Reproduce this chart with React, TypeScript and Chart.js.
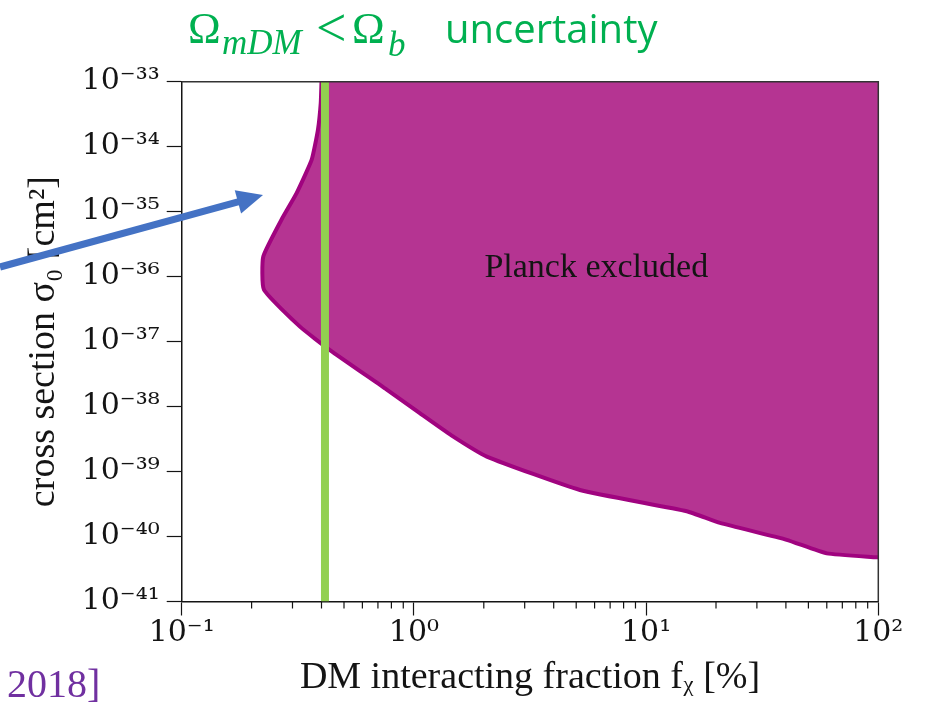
import React, { useEffect, useRef } from 'react';
import { Chart, registerables } from 'chart.js';

Chart.register(...registerables);

// Excluded-region boundary (DM interacting fraction in %, cross section in cm^2)
const boundaryFraction = [0.40, 0.397, 0.386, 0.363, 0.313, 0.273, 0.2246, 0.226, 0.323, 0.435, 0.764, 1.06, 1.45, 2.06, 5.19, 14.96, 20.8, 40.3, 60, 98.4, 100];
const boundarySigma = [1e-33, 4.68e-34, 1.8e-34, 6.3e-35, 1.95e-35, 8.3e-36, 2.04e-36, 6.3e-37, 1.7e-37, 7.4e-38, 1.82e-38, 7.9e-39, 3.6e-39, 1.7e-39, 5.2e-40, 2.45e-40, 1.62e-40, 8.9e-41, 5.5e-41, 4.8e-41, 4.8e-41];

// Omega_mDM < Omega_b uncertainty line
const uncertaintyFraction = 0.414;

const xMajorTicks = [0.1, 1, 10, 100];
const xMinorTicks = [0.2, 0.3, 0.4, 0.5, 0.6, 0.7, 0.8, 0.9, 2, 3, 4, 5, 6, 7, 8, 9, 20, 30, 40, 50, 60, 70, 80, 90];
const xTickLabels = ['10⁻¹', '10⁰', '10¹', '10²'];
const yTicks = [1e-41, 1e-40, 1e-39, 1e-38, 1e-37, 1e-36, 1e-35, 1e-34, 1e-33];
const yTickLabels = ['10⁻⁴¹', '10⁻⁴⁰', '10⁻³⁹', '10⁻³⁸', '10⁻³⁷', '10⁻³⁶', '10⁻³⁵', '10⁻³⁴', '10⁻³³'];

const regionLabel = 'Planck excluded';
const regionLabelX = 6.1;
const regionLabelY = 1e-36;

const SERIF = '"Liberation Serif", "Times New Roman", serif';
const TICK_FONT = '"DejaVu Serif", serif';
const INK = '#141414';

function findIndex(list: number[], v: number) {
  return list.findIndex((t) => Math.abs(t - v) / t < 1e-6);
}

export default function App() {
  const ref = useRef<HTMLCanvasElement | null>(null);

  useEffect(() => {
    const canvas = ref.current;
    if (!canvas) return;

    const boundary = boundaryFraction.map((x, i) => ({ x, y: boundarySigma[i] }));
    const region = [...boundary, { x: 100, y: 1e-33 }];

    const overlay = {
      id: 'overlay',
      afterDraw(chart: any) {
        const ctx = chart.ctx as CanvasRenderingContext2D;
        const area = chart.chartArea;
        const xs = chart.scales.x;
        const ys = chart.scales.y;
        ctx.save();

        // top and right frame
        ctx.strokeStyle = '#333';
        ctx.lineWidth = 1.5;
        ctx.beginPath();
        ctx.moveTo(area.left, area.top);
        ctx.lineTo(area.right, area.top);
        ctx.lineTo(area.right, area.bottom);
        ctx.stroke();

        // minor ticks on x axis
        ctx.strokeStyle = INK;
        ctx.lineWidth = 1.2;
        for (const v of xMinorTicks) {
          const px = xs.getPixelForValue(v);
          ctx.beginPath();
          ctx.moveTo(px, area.bottom);
          ctx.lineTo(px, area.bottom + 7);
          ctx.stroke();
        }

        // region label
        ctx.fillStyle = INK;
        ctx.font = `34px ${SERIF}`;
        ctx.textAlign = 'center';
        ctx.textBaseline = 'alphabetic';
        ctx.fillText(regionLabel, xs.getPixelForValue(regionLabelX), ys.getPixelForValue(regionLabelY));

        // title
        ctx.textAlign = 'left';
        ctx.fillStyle = '#00B050';
        ctx.font = `44px ${SERIF}`;
        ctx.fillText('Ω', 188, 43);
        ctx.font = `italic 35px ${SERIF}`;
        ctx.fillText('mDM', 222, 54);
        ctx.font = `54px ${SERIF}`;
        ctx.fillText('<', 316, 46);
        ctx.font = `44px ${SERIF}`;
        ctx.fillText('Ω', 352, 43);
        ctx.font = `italic 35px ${SERIF}`;
        ctx.fillText('b', 388, 56);
        ctx.font = `40px "Open Sans", sans-serif`;
        ctx.fillText('uncertainty', 445, 43);

        // citation fragment
        ctx.fillStyle = '#7030A0';
        ctx.font = `40px ${SERIF}`;
        ctx.fillText('2018]', 7, 697);

        // arrow
        const x0 = 0, y0 = 267, x1 = 263, y1 = 195;
        const ang = Math.atan2(y1 - y0, x1 - x0);
        const headLen = 26, headW = 12;
        const bx = x1 - headLen * Math.cos(ang);
        const by = y1 - headLen * Math.sin(ang);
        ctx.strokeStyle = '#4472C4';
        ctx.fillStyle = '#4472C4';
        ctx.lineWidth = 7;
        ctx.lineCap = 'butt';
        ctx.beginPath();
        ctx.moveTo(x0, y0);
        ctx.lineTo(bx + 2 * Math.cos(ang), by + 2 * Math.sin(ang));
        ctx.stroke();
        ctx.beginPath();
        ctx.moveTo(x1, y1);
        ctx.lineTo(bx + headW * Math.sin(ang), by - headW * Math.cos(ang));
        ctx.lineTo(bx - headW * Math.sin(ang), by + headW * Math.cos(ang));
        ctx.closePath();
        ctx.fill();

        ctx.restore();
      },
    };

    const chart = new Chart(canvas, {
      type: 'line',
      data: {
        datasets: [
          {
            label: 'uncertainty',
            data: [
              { x: uncertaintyFraction, y: 1e-41 },
              { x: uncertaintyFraction, y: 1e-33 },
            ],
            borderColor: '#92D050',
            borderWidth: 8,
            borderCapStyle: 'butt',
            pointRadius: 0,
            fill: false,
            clip: 0,
          },
          {
            label: 'boundary',
            data: boundary,
            borderColor: '#A0037F',
            borderWidth: 4,
            borderJoinStyle: 'round',
            pointRadius: 0,
            fill: false,
            tension: 0.15,
            clip: 0,
          },
          {
            label: 'excluded',
            data: region,
            borderColor: 'rgba(0,0,0,0)',
            borderWidth: 0,
            backgroundColor: '#B53492',
            pointRadius: 0,
            fill: 'shape',
            tension: 0,
          },
        ],
      } as any,
      options: {
        animation: false,
        responsive: true,
        maintainAspectRatio: false,
        layout: { padding: { top: 81.7, right: 51.7, left: 0, bottom: 0 } },
        plugins: {
          legend: { display: false },
          tooltip: { enabled: false },
          title: { display: false },
        },
        scales: {
          x: {
            type: 'logarithmic',
            position: 'bottom',
            min: 0.1,
            max: 100,
            afterBuildTicks: (s: any) => {
              const t = [
                ...xMajorTicks.map((v) => ({ value: v, major: true })),
                ...xMinorTicks.map((v) => ({ value: v, major: false })),
              ];
              t.sort((a, b) => a.value - b.value);
              s.ticks = t;
            },
            afterFit: (s: any) => {
              s.height = 101.5;
            },
            ticks: {
              autoSkip: false,
              maxRotation: 0,
              minRotation: 0,
              padding: 0,
              color: INK,
              font: { family: TICK_FONT, size: 30 },
              callback: (v: any) => {
                const i = findIndex(xMajorTicks, Number(v));
                return i >= 0 ? xTickLabels[i] : '';
              },
            },
            grid: {
              drawOnChartArea: false,
              drawTicks: true,
              tickLength: 14,
              tickWidth: 1.2,
              tickColor: (c: any) => (c.tick && c.tick.major ? INK : 'rgba(0,0,0,0)'),
            },
            border: { display: true, color: INK, width: 1.5 },
            title: {
              display: true,
              text: 'DM interacting fraction fᵪ [%]',
              color: INK,
              font: { family: SERIF, size: 38 },
              padding: { top: 0, bottom: 2 },
            },
          },
          y: {
            type: 'logarithmic',
            min: 1e-41,
            max: 1e-33,
            afterBuildTicks: (s: any) => {
              s.ticks = yTicks.map((v) => ({ value: v, major: true }));
            },
            afterFit: (s: any) => {
              s.width = 181.7;
            },
            ticks: {
              autoSkip: false,
              padding: 7,
              color: INK,
              font: { family: TICK_FONT, size: 30 },
              callback: (v: any) => {
                const i = findIndex(yTicks, Number(v));
                return i >= 0 ? yTickLabels[i] : '';
              },
            },
            grid: {
              drawOnChartArea: false,
              drawTicks: true,
              tickLength: 15,
              tickWidth: 1.2,
              tickColor: INK,
            },
            border: { display: true, color: INK, width: 1.5 },
            title: {
              display: true,
              text: 'cross section σ₀ [cm²]',
              color: INK,
              font: { family: SERIF, size: 38 },
              padding: { top: 21, bottom: 0 },
            },
          },
        },
      } as any,
      plugins: [overlay],
    });

    return () => chart.destroy();
  }, []);

  return (
    <div style={{ position: 'fixed', left: 0, top: 0, width: 930, height: 703, background: '#fff' }}>
      <canvas ref={ref} />
    </div>
  );
}
